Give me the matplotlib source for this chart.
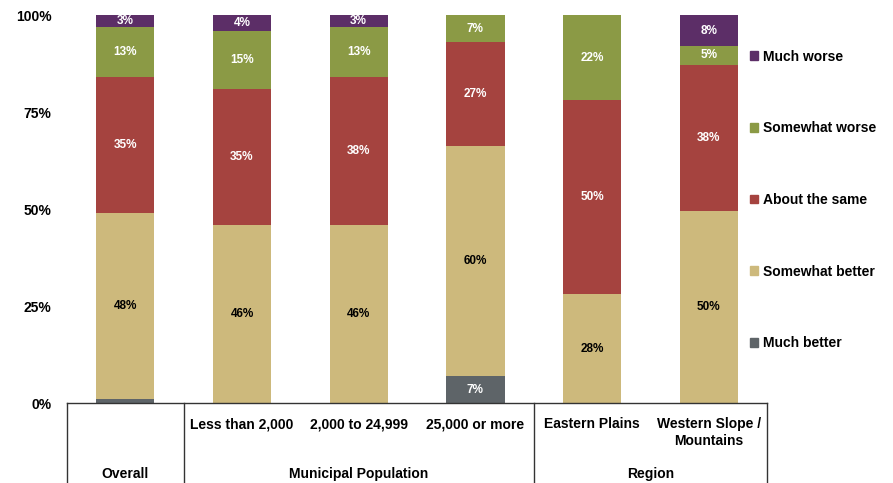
import matplotlib.pyplot as plt
import matplotlib.transforms as mtransforms
from matplotlib.patches import Patch
import numpy as np

plt.rcParams['font.family'] = ['Liberation Sans', 'DejaVu Sans']
plt.rcParams['font.weight'] = 'bold'

categories = ['Overall', 'Less than 2,000', '2,000 to 24,999', '25,000 or more',
              'Eastern Plains', 'Western Slope /\nMountains']
much_better = [1, 0, 0, 7, 0, 0]
somewhat_better = [48, 46, 46, 60, 28, 50]
about_same = [35, 35, 38, 27, 50, 38]
somewhat_worse = [13, 15, 13, 7, 22, 5]
much_worse = [3, 4, 3, 0, 0, 8]

series = [
    ('Much better', much_better, '#5e6468', 'white'),
    ('Somewhat better', somewhat_better, '#cdb97c', 'black'),
    ('About the same', about_same, '#a5433f', 'white'),
    ('Somewhat worse', somewhat_worse, '#8b9a45', 'white'),
    ('Much worse', much_worse, '#5c2e67', 'white'),
]
# smallest segments get no label
min_label = 2

# rounded shares can add up to 101, scale each stack to 100%
totals = np.sum([s[1] for s in series], axis=0).astype(float)

fig = plt.figure(figsize=(8.93, 4.83), dpi=100)
ax = fig.add_axes([0.075, 0.1656, 0.784, 0.803])

x = np.arange(len(categories))
bottom = np.zeros(len(categories))
for name, vals, color, tcolor in series:
    raw = np.array(vals, dtype=float)
    h = raw / totals * 100
    ax.bar(x, h, 0.5, bottom=bottom, color=color, label=name)
    for xi, v, hh, b in zip(x, raw, h, bottom):
        if v >= min_label:
            ax.text(xi, b + hh / 2, f'{int(v)}%', ha='center', va='center',
                    color=tcolor, fontsize=8.5, fontweight='bold')
    bottom += h

ax.set_xlim(-0.5, 5.5)
ax.set_ylim(0, 100)
ax.set_yticks([0, 25, 50, 75, 100])
ax.set_yticklabels(['0%', '25%', '50%', '75%', '100%'], fontsize=10, fontweight='bold')
ax.tick_params(axis='y', length=0, pad=11)
ax.set_xticks([])
for s in ['left', 'right', 'top']:
    ax.spines[s].set_visible(False)
ax.spines['bottom'].set_color('#333333')
ax.spines['bottom'].set_linewidth(1.0)

# table underneath the bars
trans = mtransforms.blended_transform_factory(ax.transData, ax.transAxes)
for xv in [-0.5, 0.5, 3.5, 5.5]:
    ax.plot([xv, xv], [0, -0.22], transform=trans, color='#333333', lw=1.0, clip_on=False)

for xi, cat in enumerate(categories):
    if xi == 0:
        continue
    ax.text(xi, -0.037, cat, transform=trans, ha='center', va='top',
            fontsize=10, fontweight='bold', linespacing=1.25)

groups = [('Overall', 0), ('Municipal Population', 2), ('Region', 4.5)]
for label, xc in groups:
    ax.text(xc, -0.182, label, transform=trans, ha='center', va='center',
            fontsize=10, fontweight='bold')

handles = [Patch(color=c, label=n) for n, v, c, t in series][::-1]
ax.legend(handles=handles, loc='center left', bbox_to_anchor=(0.826, 0.586),
          bbox_transform=fig.transFigure, frameon=False,
          handlelength=0.6, handleheight=0.6, handletextpad=0.3, labelspacing=4.15,
          prop={'weight': 'bold', 'size': 10})

fig.savefig('out.png', dpi=100)
